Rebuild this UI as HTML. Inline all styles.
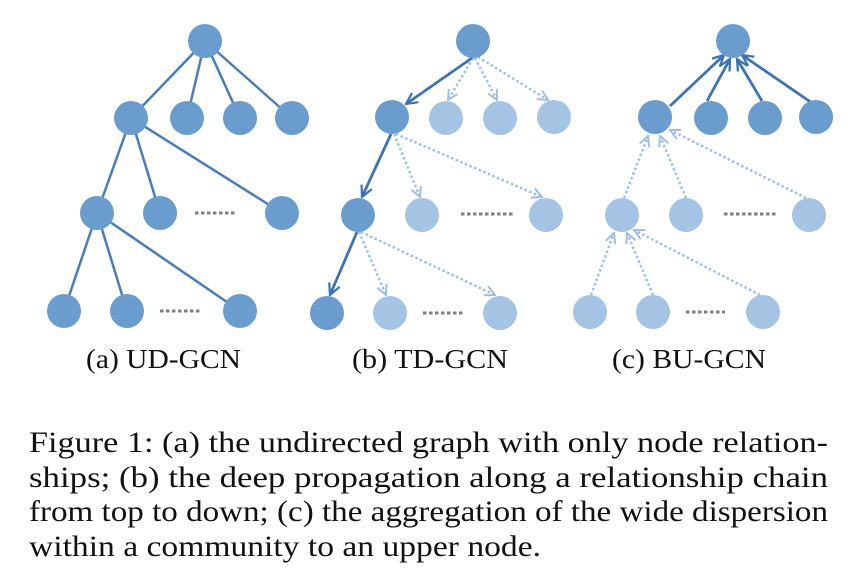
<!DOCTYPE html>
<html><head><meta charset="utf-8"><style>html,body{margin:0;padding:0;background:#fff}svg{display:block}</style></head>
<body>
<svg width="866" height="586" viewBox="0 0 866 586" xmlns="http://www.w3.org/2000/svg">
<defs>
<marker id="ad" viewBox="0 0 10 10" refX="9" refY="5" markerWidth="5" markerHeight="5" orient="auto" markerUnits="strokeWidth"><path d="M1,1 L9,5 L1,9" fill="none" stroke="#3e72b2" stroke-width="1.6"/></marker>
<marker id="al" viewBox="0 0 10 10" refX="9" refY="5" markerWidth="5" markerHeight="5" orient="auto" markerUnits="strokeWidth"><path d="M1,1 L9,5 L1,9" fill="none" stroke="#9fc0e3" stroke-width="1.6"/></marker>
</defs>
<g stroke="#4a7cb8" stroke-width="2.5">
<line x1="205" y1="41" x2="131" y2="118"/><line x1="205" y1="41" x2="187" y2="118"/><line x1="205" y1="41" x2="240" y2="118"/><line x1="205" y1="41" x2="292" y2="118"/>
<line x1="131" y1="118" x2="97" y2="213"/><line x1="131" y1="118" x2="160" y2="213"/><line x1="131" y1="118" x2="282" y2="213"/>
<line x1="97" y1="213" x2="64" y2="311"/><line x1="97" y1="213" x2="127" y2="311"/><line x1="97" y1="213" x2="240" y2="311"/>
</g>
<g fill="#6a9ccd">
<circle cx="205" cy="41" r="17"/><circle cx="131" cy="118" r="17"/><circle cx="187" cy="118" r="17"/><circle cx="240" cy="118" r="17"/><circle cx="292" cy="118" r="17"/>
<circle cx="97" cy="213" r="17"/><circle cx="160" cy="213" r="17"/><circle cx="282" cy="213" r="17"/>
<circle cx="64" cy="311" r="17"/><circle cx="127" cy="311" r="17"/><circle cx="240" cy="311" r="17"/>
</g>
<!-- b -->
<g stroke="#9fc0e3" stroke-width="2.5" stroke-dasharray="2.5 2.5" fill="none" marker-end="url(#al)">
<line x1="473" y1="58" x2="448" y2="100"/><line x1="475" y1="58" x2="497" y2="100"/><line x1="478" y1="57" x2="548" y2="100"/>
<line x1="394" y1="134" x2="420" y2="197"/><line x1="396" y1="134" x2="542" y2="197"/>
<line x1="359" y1="232" x2="386" y2="295"/><line x1="361" y1="232" x2="495" y2="295"/>
</g>
<g stroke="#3e72b2" stroke-width="2.8" fill="none" marker-end="url(#ad)">
<line x1="472" y1="58" x2="406" y2="104"/><line x1="391" y1="134" x2="362" y2="197"/><line x1="357" y1="232" x2="330" y2="295"/>
</g>
<g fill="#6a9ccd"><circle cx="473" cy="41" r="17"/><circle cx="392" cy="117" r="17"/><circle cx="358" cy="215" r="17"/><circle cx="327" cy="313" r="17"/></g>
<g fill="#a5c3e2"><circle cx="446" cy="118" r="17"/><circle cx="500" cy="118" r="17"/><circle cx="554" cy="117" r="17"/><circle cx="422" cy="215" r="17"/><circle cx="546" cy="215" r="17"/><circle cx="390" cy="313" r="17"/><circle cx="500" cy="313" r="17"/></g>
<!-- c -->
<g stroke="#9fc0e3" stroke-width="2.5" stroke-dasharray="2.5 2.5" fill="none" marker-end="url(#al)">
<line x1="624" y1="198" x2="648" y2="136"/><line x1="686" y1="198" x2="660" y2="136"/><line x1="806" y1="198" x2="670" y2="130"/>
<line x1="591" y1="295" x2="614" y2="233"/><line x1="653" y1="295" x2="627" y2="233"/><line x1="760" y1="295" x2="634" y2="230"/>
</g>
<g stroke="#3e72b2" stroke-width="2.8" fill="none" marker-end="url(#ad)">
<line x1="670" y1="106" x2="724" y2="55"/><line x1="707" y1="101" x2="730" y2="59"/><line x1="762" y1="101" x2="737" y2="59"/><line x1="812" y1="103" x2="742" y2="55"/>
</g>
<g fill="#6a9ccd"><circle cx="733" cy="41" r="17"/><circle cx="655" cy="117" r="17"/><circle cx="711" cy="118" r="17"/><circle cx="765" cy="118" r="17"/><circle cx="816" cy="117" r="17"/></g>
<g fill="#a5c3e2"><circle cx="622" cy="215" r="17"/><circle cx="686" cy="215" r="17"/><circle cx="809" cy="215" r="17"/><circle cx="590" cy="312" r="17"/><circle cx="653" cy="312" r="17"/><circle cx="763" cy="312" r="17"/></g>
<!-- dots -->
<g stroke="#7f7f7f" stroke-width="3" stroke-dasharray="3.5 2.5">
<line x1="195" y1="213" x2="236" y2="213"/><line x1="160" y1="311" x2="200" y2="311"/>
<line x1="461" y1="214" x2="513" y2="214"/><line x1="423" y1="313" x2="463" y2="313"/>
<line x1="724" y1="214" x2="777" y2="214"/><line x1="686" y1="312" x2="725" y2="312"/>
</g>
<g font-family="Liberation Serif, serif" fill="#111" font-size="27">
<text x="86" y="368" textLength="155" lengthAdjust="spacingAndGlyphs">(a) UD-GCN</text>
<text x="352" y="368" textLength="156" lengthAdjust="spacingAndGlyphs">(b) TD-GCN</text>
<text x="612" y="368" textLength="154" lengthAdjust="spacingAndGlyphs">(c) BU-GCN</text>
</g>
<g font-family="Liberation Serif, serif" fill="#111" font-size="30">
<text x="29" y="452" textLength="799" lengthAdjust="spacingAndGlyphs">Figure 1: (a) the undirected graph with only node relation-</text>
<text x="29" y="487" textLength="799" lengthAdjust="spacingAndGlyphs">ships; (b) the deep propagation along a relationship chain</text>
<text x="29" y="521" textLength="799" lengthAdjust="spacingAndGlyphs">from top to down; (c) the aggregation of the wide dispersion</text>
<text x="29" y="556" textLength="512" lengthAdjust="spacingAndGlyphs">within a community to an upper node.</text>
</g>
</svg>
</body></html>
